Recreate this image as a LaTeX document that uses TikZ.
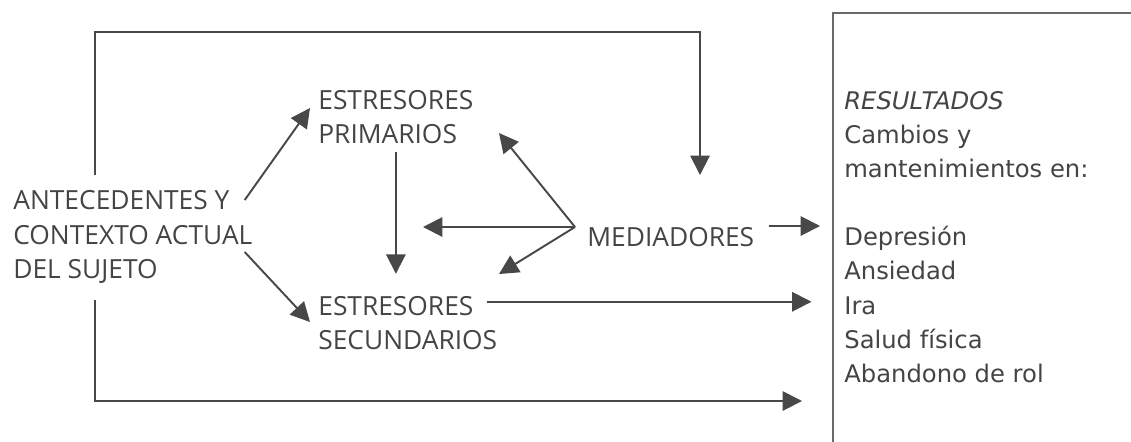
\documentclass[tikz,border=0pt]{standalone}
\usepackage{fontspec}
\setmainfont{Open Sans}
\newfontfamily\boxfont{DejaVu Sans}
\usetikzlibrary{arrows.meta}
\definecolor{inkgray}{HTML}{444444}
\definecolor{rulegray}{HTML}{484848}
\definecolor{framegray}{HTML}{6A6A6A}

\begin{document}
\begin{tikzpicture}[x=0.02cm, y=-0.02cm, >={Triangle[length=11pt,width=11pt]},
        every node/.style={inner sep=0pt, text=inkgray, align=left},
        lbl/.style={font=\fontsize{15}{19.6}\selectfont, anchor=west},
        link/.style={draw=rulegray, line width=1.1pt, ->}]
        \useasboundingbox (0,0) rectangle (1131,441);
        \def\boxX{833}

        % textos
        \node[lbl] (ante) at (13,237) {ANTECEDENTES Y\\CONTEXTO ACTUAL\\DEL SUJETO};
        \node[lbl] (prim) at (318,117) {ESTRESORES\\PRIMARIOS};
        \node[lbl] (sec) at (318,323) {ESTRESORES\\SECUNDARIOS};
        \node[lbl] (med) at (587,237) {MEDIADORES};
        \node[anchor=west, font=\boxfont\fontsize{13.8}{19.4}\selectfont] (res) at (844,237)
            {\textit{RESULTADOS}\\Cambios y\\mantenimientos en:\\[19.4pt]Depresión\\Ansiedad\\Ira\\Salud física\\Abandono de rol};

        % recuadro de resultados
        \draw[framegray, line width=0.8pt] (\boxX,445) |- (1135,13);

        % puntos libres
        \coordinate (hub) at ([shift={(-12,-10)}]med.west);
        \coordinate (primTip) at (499,133);
        \coordinate (midTip) at (423,227);
        \coordinate (secTip) at (499,274);
        \coordinate (topTip) at (700,175);
        \coordinate (lowTip) at (802,401);

        \draw[link] ([shift={(-8,-37)}]ante.east) -- ([shift={(-8,-9)}]prim.west);
        \draw[link] ([shift={(-8,15)}]ante.east) -- ([shift={(-8,-1)}]sec.west);
        \draw[link, shorten <=4.5pt, shorten >=12.5pt] (prim.south) -- (prim.south |- sec.north);
        \draw[link] (hub) -- (primTip);
        \draw[link] (hub) -- (midTip);
        \draw[link] (hub) -- (secTip);
        \draw[link] ([shift={(14,-11)}]med.east) -- ([shift={(-24,-11)}]res.west);
        \draw[link] ([shift={(-11,6)}]sec.north east) -- ++(325,0);
        \draw[link] ([shift={(82,-15)}]ante.north west) -- ++(0,-143) -| (topTip);
        \draw[link] ([shift={(82,16)}]ante.south west) |- (lowTip);
    \end{tikzpicture}
\end{document}
